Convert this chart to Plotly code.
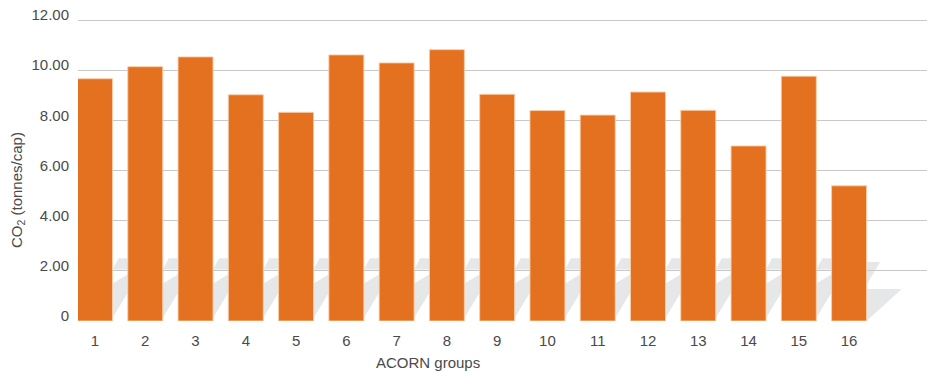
import plotly.graph_objects as go

# ACORN group emissions
groups = list(range(1, 17))
co2_per_cap = [9.66, 10.14, 10.53, 9.02, 8.32, 10.61, 10.29, 10.82,
               9.04, 8.39, 8.21, 9.13, 8.40, 6.98, 9.76, 5.39]
y_ticks = [0, 2, 4, 6, 8, 10, 12]
y_tick_text = ["0", "2.00", "4.00", "6.00", "8.00", "10.00", "12.00"]

BAR_COLOR = "#E4711F"
SHADOW = "#E6E7E9"
TEXT = "#4a4a4a"
FONT = "Liberation Sans"
BAR_W = 0.696

fig = go.Figure()
fig.add_trace(go.Bar(
    x=groups, y=co2_per_cap, width=BAR_W,
    marker=dict(color=BAR_COLOR, line=dict(color="rgba(250,205,170,0.9)", width=1)),
    hoverinfo="x+y",
))

# pseudo-3D floor shadows visible in the gaps between bars
shapes = []
half = BAR_W / 2
d = 0.30
for g in groups[:-1]:
    r = g + half
    shapes.append(dict(
        type="path", xref="x", yref="y", layer="below",
        path=f"M {r},0.12 L {r + d},1.12 L {r + d},1.85 L {r},1.5 Z",
        fillcolor=SHADOW, line=dict(width=0),
    ))
    shapes.append(dict(
        type="path", xref="x", yref="y", layer="below",
        path=f"M {r},2.05 L {r + d},2.05 L {r + d},2.5 L {r + 0.12},2.5 Z",
        fillcolor=SHADOW, line=dict(width=0),
    ))
# floor pieces at the end of the row
last = groups[-1] + half
shapes.append(dict(
    type="path", xref="x", yref="y", layer="below",
    path=f"M {last},0 L {last + 0.7},1.28 L {last},1.28 Z",
    fillcolor=SHADOW, line=dict(width=0),
))
shapes.append(dict(
    type="path", xref="x", yref="y", layer="below",
    path=f"M {last},1.45 L {last + 0.27},2.35 L {last},2.35 Z",
    fillcolor=SHADOW, line=dict(width=0),
))

fig.update_layout(
    width=927, height=372,
    margin=dict(l=78, r=0, t=10, b=51),
    paper_bgcolor="white", plot_bgcolor="white",
    showlegend=False,
    font=dict(family=FONT, size=15, color=TEXT),
    shapes=shapes,
    xaxis=dict(
        range=[0.662, 17.55], tickvals=groups, ticktext=[str(g) for g in groups],
        showgrid=False, zeroline=False, showline=False, ticks="",
        ticklabelstandoff=9,
    ),
    yaxis=dict(
        range=[0, 12.4], tickvals=y_ticks, ticktext=y_tick_text,
        showgrid=True, gridcolor="#c8c8c8", gridwidth=1.2,
        zeroline=True, zerolinecolor="rgba(0,0,0,0)",
        showline=False, ticks="", ticklabelshift=-5, ticklabelstandoff=8,
    ),
    annotations=[
        dict(text="CO<sub>2</sub> (tonnes/cap)", xref="paper", yref="paper",
             x=(17 - 78) / 849, y=(321 - 190) / 311, xanchor="center", yanchor="middle",
             textangle=-90, showarrow=False, font=dict(size=15, color=TEXT)),
        dict(text="ACORN groups", xref="paper", yref="paper",
             x=(428 - 78) / 849, y=-(362 - 321) / 311, xanchor="center", yanchor="middle",
             showarrow=False, font=dict(size=15, color=TEXT)),
    ],
)

fig.write_html("out.html")
